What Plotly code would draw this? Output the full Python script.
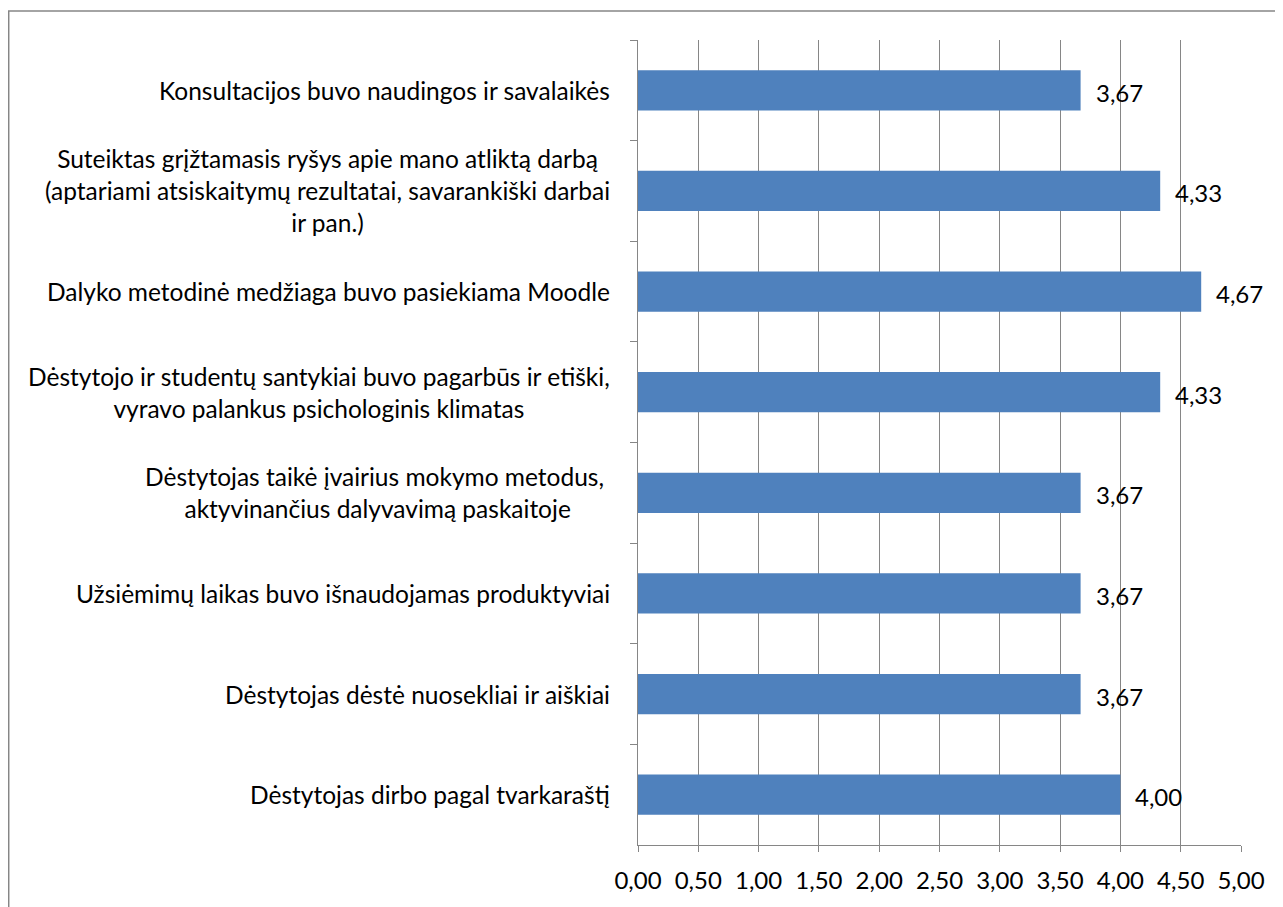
import plotly.graph_objects as go

categories = [
    "Konsultacijos buvo naudingos ir savalaikės",
    "Suteiktas grįžtamasis ryšys apie mano atliktą darbą<br>(aptariami atsiskaitymų rezultatai, savarankiški darbai<br>ir pan.)",
    "Dalyko metodinė medžiaga buvo pasiekiama Moodle",
    "Dėstytojo ir studentų santykiai buvo pagarbūs ir etiški,<br>vyravo palankus psichologinis klimatas",
    "Dėstytojas taikė įvairius mokymo metodus, <br>aktyvinančius dalyvavimą paskaitoje",
    "Užsiėmimų laikas buvo išnaudojamas produktyviai",
    "Dėstytojas dėstė nuosekliai ir aiškiai",
    "Dėstytojas dirbo pagal tvarkaraštį",
]
values = [3.67, 4.33, 4.67, 4.33, 3.67, 3.67, 3.67, 4.00]
value_labels = ["3,67", "4,33", "4,67", "4,33", "3,67", "3,67", "3,67", "4,00"]

FONT = "Lato"
GRID = "#868686"
BAR = "#4F81BD"

fig = go.Figure()
fig.add_trace(go.Bar(
    x=values, y=categories, orientation="h",
    marker=dict(color=BAR, line=dict(width=0)),
    hoverinfo="skip",
))

annotations = []
for cat, v, lab in zip(categories, values, value_labels):
    annotations.append(dict(
        x=v, y=cat, xref="x", yref="y", text=lab, showarrow=False,
        xanchor="left", yanchor="middle", xshift=13, yshift=-2,
        font=dict(family=FONT, size=24, color="black"),
    ))
    annotations.append(dict(
        x=-0.043, y=cat, xref="paper", yref="y", text=cat, showarrow=False,
        xanchor="right", yanchor="middle", align="center",
        font=dict(family=FONT, size=24.5, color="black"),
    ))

fig.update_layout(
    width=1275, height=899,
    margin=dict(l=630, r=42, t=32, b=62),
    paper_bgcolor="white", plot_bgcolor="white",
    separators=",.",
    showlegend=False,
    bargap=0.6,
    font=dict(family=FONT, size=21, color="black"),
    annotations=annotations,
    shapes=[dict(
        type="rect", xref="paper", yref="paper",
        x0=-1.0436, x1=1.3, y0=-0.3, y1=1.036,
        line=dict(color=GRID, width=1.5), fillcolor="rgba(0,0,0,0)", layer="below",
    )],
)
fig.update_xaxes(
    range=[0, 5], dtick=0.5, tick0=0, tickformat=".2f",
    showgrid=True, gridcolor=GRID, gridwidth=1.3,
    showline=True, linecolor=GRID, linewidth=1.3,
    ticks="outside", ticklen=6, tickcolor=GRID, tickwidth=1.3,
    ticklabelstandoff=8,
    zeroline=False,
    tickfont=dict(family=FONT, size=24, color="black"),
)
fig.update_yaxes(
    autorange="reversed", type="category",
    showticklabels=False, showgrid=False,
    showline=True, linecolor=GRID, linewidth=1.3,
    ticks="outside", tickson="boundaries", ticklen=7, tickcolor=GRID, tickwidth=1.3,
    zeroline=False,
)

fig.write_html("out.html")
